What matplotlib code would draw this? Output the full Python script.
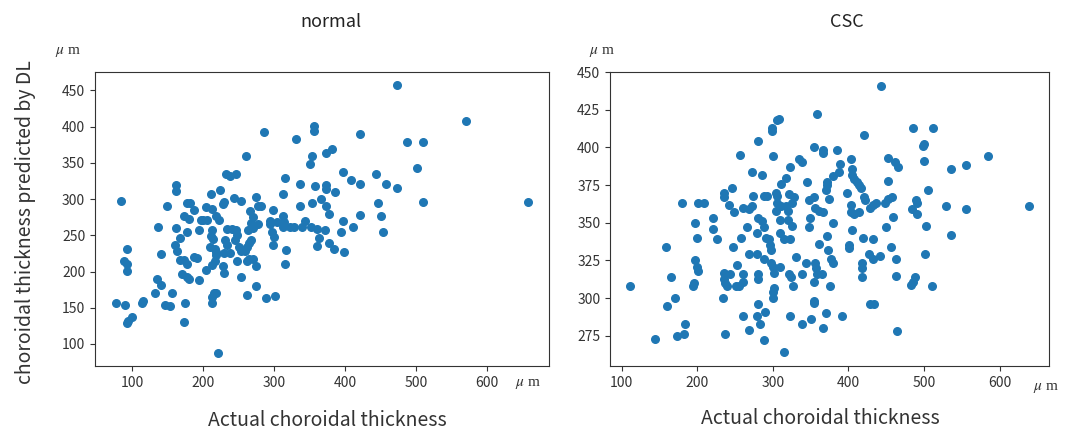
import matplotlib
matplotlib.use("Agg")
import matplotlib.pyplot as plt

plt.rcParams['font.family'] = ['Noto Sans CJK JP', 'DejaVu Sans']
plt.rcParams['mathtext.fontset'] = 'stix'

# normal group: actual thickness (x) vs DL prediction (y), in um
normal_x = [473, 570, 658, 286, 356, 356, 331, 421, 487, 510, 501, 510, 473, 458, 443, 446, 450, 454,
            421, 421, 409, 397, 382, 373, 351, 354, 386, 373, 373, 358, 337, 316, 313, 337, 366, 354,
            373, 378, 397, 411, 394, 398, 384, 378, 361, 363, 372, 361, 352, 344, 340, 328, 323, 313,
            314, 312, 304, 298, 294, 294, 297, 300, 298, 317, 316, 301, 289, 275, 274, 270, 265, 262,
            248, 253, 262, 229, 228, 217, 213, 221, 216, 213, 212, 219, 204, 194, 187, 191, 180, 178,
            170, 175, 173, 178, 168, 173, 164, 161, 168, 177, 162, 173, 162, 162, 149, 136, 141, 135,
            141, 133, 147, 153, 156, 116, 114, 100, 94, 93, 77, 90, 85, 93, 89, 93, 93, 182,
            178, 188, 181, 197, 194, 211, 224, 204, 212, 200, 205, 211, 213, 214, 210, 217, 219, 218,
            229, 228, 232, 238, 246, 243, 253, 261, 223, 218, 234, 241, 247, 231, 234, 230, 238, 245,
            248, 251, 274, 266, 270, 277, 268, 263, 270, 278, 281, 265, 262, 268, 259, 253]
normal_y = [457, 408, 296, 392, 401, 394, 383, 390, 379, 379, 343, 296, 315, 321, 334, 295, 276, 255,
            321, 278, 327, 338, 369, 364, 349, 359, 310, 320, 314, 318, 321, 329, 307, 290, 300, 295,
            291, 280, 270, 261, 254, 227, 231, 239, 235, 246, 257, 259, 262, 270, 261, 261, 261, 261,
            268, 276, 268, 285, 270, 265, 254, 248, 237, 230, 210, 166, 164, 180, 207, 217, 217, 215,
            215, 192, 168, 198, 208, 215, 209, 88, 171, 165, 156, 170, 202, 188, 220, 218, 189, 192,
            196, 157, 130, 210, 216, 216, 229, 236, 246, 255, 260, 276, 319, 311, 291, 261, 224, 189,
            181, 170, 154, 153, 171, 160, 157, 137, 132, 129, 156, 154, 298, 231, 215, 211, 201, 295,
            294, 285, 273, 271, 257, 307, 313, 289, 287, 271, 271, 249, 257, 245, 234, 231, 223, 227,
            296, 293, 334, 332, 335, 301, 298, 359, 271, 276, 259, 259, 257, 243, 237, 225, 225, 243,
            250, 234, 303, 284, 275, 266, 267, 257, 260, 290, 291, 239, 234, 244, 229, 229]

# CSC group
csc_x = [443, 358, 308, 306, 299, 299, 485, 512, 420, 280, 500, 499, 355, 367, 367, 385, 257, 300,
         585, 452, 462, 465, 335, 339, 404, 389, 388, 500, 536, 555, 323, 272, 285, 318, 380, 405,
         405, 408, 412, 414, 417, 453, 345, 372, 372, 370, 311, 246, 236, 235, 505, 398, 304, 306,
         274, 288, 292, 321, 328, 355, 348, 374, 458, 452, 448, 489, 491, 420, 422, 180, 201, 209,
         242, 261, 269, 273, 305, 311, 304, 317, 320, 326, 356, 361, 366, 403, 403, 408, 414, 428,
         432, 436, 484, 491, 529, 555, 639, 197, 221, 221, 226, 249, 266, 258, 247, 200, 158, 280,
         285, 288, 279, 291, 295, 309, 315, 323, 309, 320, 325, 348, 349, 361, 372, 380, 405, 401,
         401, 419, 432, 450, 459, 502, 536, 456, 501, 442, 432, 427, 418, 418, 418, 463, 463, 488,
         485, 511, 483, 197, 200, 201, 196, 195, 165, 171, 160, 111, 144, 173, 182, 184, 237, 234,
         235, 236, 237, 240, 243, 252, 255, 251, 261, 261, 268, 279, 261, 268, 279, 283, 281, 288,
         290, 280, 280, 288, 296, 298, 297, 300, 302, 300, 300, 301, 309, 315, 323, 321, 324, 327,
         330, 338, 338, 344, 351, 355, 356, 357, 359, 355, 355, 365, 367, 370, 375, 373, 377, 380,
         391, 429, 434, 464]
csc_y = [441, 422, 419, 418, 413, 411, 413, 413, 408, 404, 402, 401, 400, 398, 396, 398, 395, 394,
         394, 393, 390, 387, 392, 390, 392, 389, 384, 391, 386, 388, 387, 384, 382, 380, 381, 386,
         382, 379, 377, 375, 373, 378, 377, 377, 375, 372, 376, 373, 370, 367, 372, 370, 370, 368,
         368, 368, 368, 369, 367, 367, 365, 366, 367, 366, 363, 365, 363, 367, 365, 363, 363, 363,
         362, 360, 359, 361, 363, 361, 358, 361, 358, 363, 360, 358, 357, 362, 357, 356, 357, 360,
         362, 363, 359, 356, 361, 359, 361, 350, 353, 346, 339, 357, 347, 340, 334, 340, 334, 353,
         351, 347, 343, 340, 339, 343, 339, 339, 352, 352, 348, 347, 353, 336, 341, 350, 345, 335,
         333, 340, 339, 347, 354, 348, 342, 334, 329, 328, 326, 329, 323, 320, 314, 326, 315, 314,
         311, 308, 309, 325, 321, 318, 310, 308, 314, 300, 295, 308, 273, 275, 276, 283, 276, 300,
         317, 313, 310, 308, 316, 322, 308, 308, 316, 311, 329, 329, 288, 279, 288, 283, 296, 272,
         291, 316, 313, 326, 335, 332, 323, 321, 317, 304, 300, 307, 321, 264, 288, 316, 314, 308,
         327, 316, 283, 323, 286, 311, 323, 320, 316, 298, 297, 316, 280, 290, 308, 332, 326, 323,
         288, 296, 296, 278]

fig = plt.figure(figsize=(10.78, 4.30), dpi=100)
ax1 = fig.add_axes([0.0881, 0.1488, 0.4212, 0.6837])
ax2 = fig.add_axes([0.5659, 0.1488, 0.4072, 0.6837])

ax1.scatter(normal_x, normal_y, s=30, color='#1f77b4')
ax2.scatter(csc_x, csc_y, s=30, color='#1f77b4')

ax1.set_xticks([100, 200, 300, 400, 500, 600])
ax1.set_yticks([100, 150, 200, 250, 300, 350, 400, 450])
ax2.set_xticks([100, 200, 300, 400, 500, 600])
ax2.set_yticks([275, 300, 325, 350, 375, 400, 425, 450])
ax2.set_ylim(255, 450)

for ax in (ax1, ax2):
    ax.tick_params(labelsize=10, colors='#333333')
    for sp in ax.spines.values():
        sp.set_color('#333333')

fig.text(331/1078, 1 - 22/430, "normal", ha='center', va='center', fontsize=13, color='#222222')
fig.text(847/1078, 1 - 22/430, "CSC", ha='center', va='center', fontsize=13, color='#222222')
fig.text(327/1078, 1 - 421/430, "Actual choroidal thickness", ha='center', va='center',
         fontsize=14, color='#333333')
fig.text(820/1078, 1 - 418/430, "Actual choroidal thickness", ha='center', va='center',
         fontsize=14, color='#333333')
fig.text(26/1078, 1 - 222/430, "choroidal thickness predicted by DL", ha='center', va='center',
         rotation=90, fontsize=14, color='#333333')

# unit labels
for (ux, uy) in [(68, 52), (528, 384), (602, 52), (1046, 388)]:
    fig.text(ux/1078, 1 - uy/430, r"$\mu$ m", ha='center', va='center', fontsize=11,
             family='Liberation Serif', color='#333333')

fig.savefig("out.png", dpi=100)
